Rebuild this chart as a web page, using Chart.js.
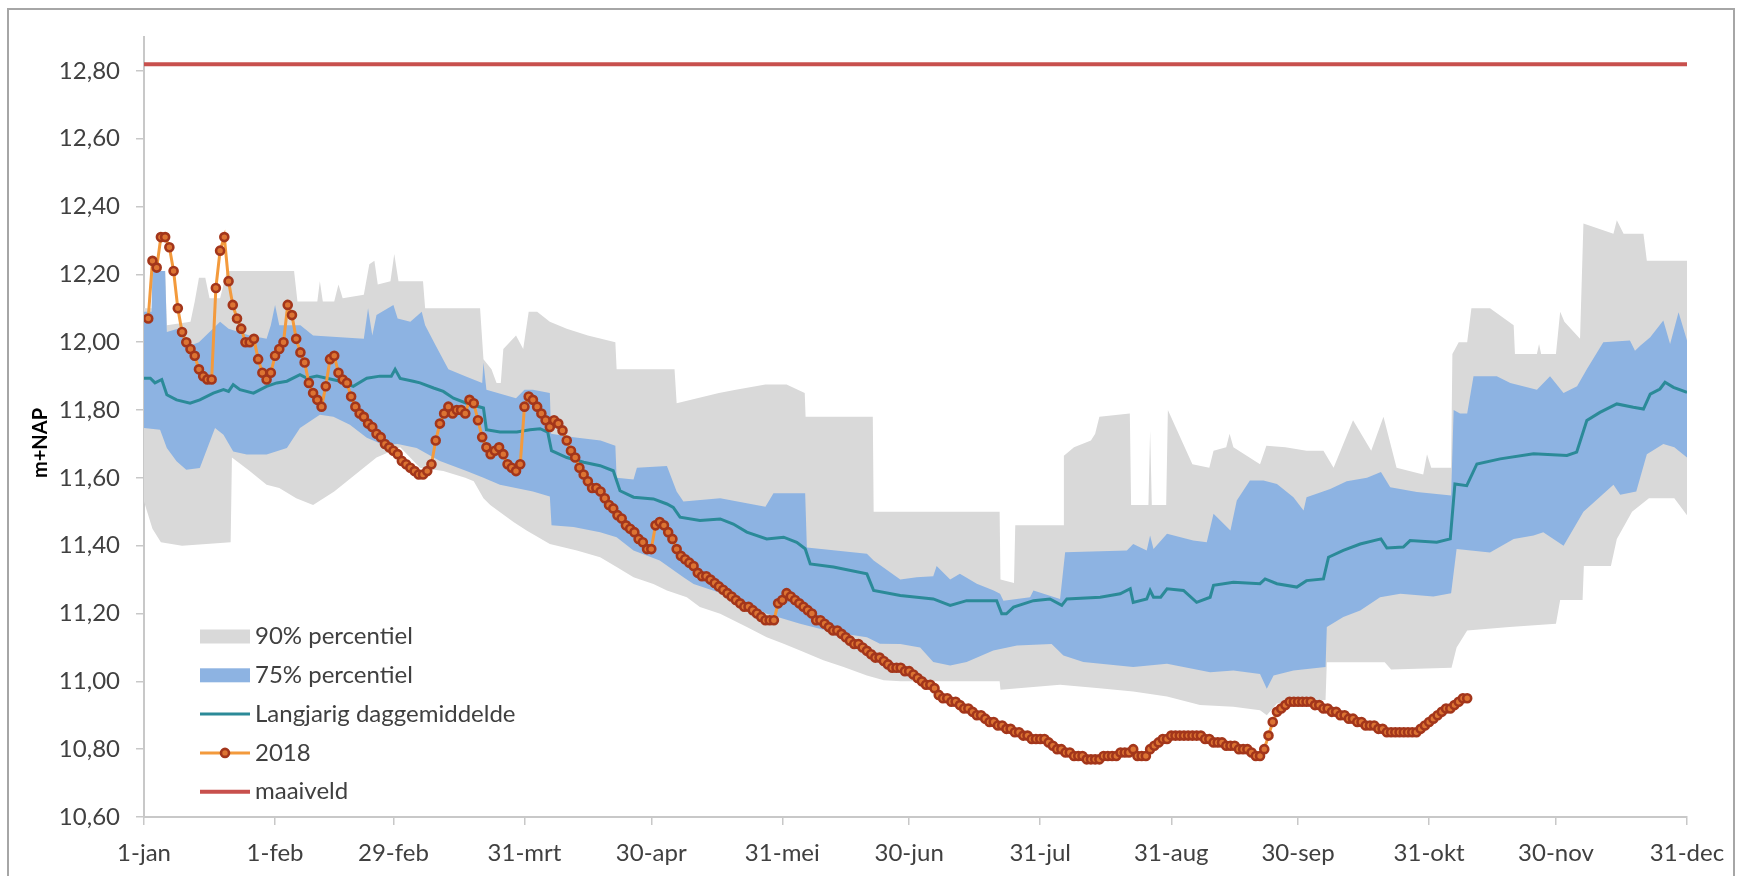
<!DOCTYPE html>
<html>
<head>
<meta charset="utf-8">
<title>Grondwaterstand 2018</title>
<script src="https://cdn.jsdelivr.net/npm/chart.js@4.4.1/dist/chart.umd.min.js"></script>
<style>
  html, body { margin: 0; padding: 0; background: #fff; }
  body { width: 1745px; height: 876px; position: relative; overflow: hidden; }
  #frame { position: absolute; left: 7px; top: 8px; width: 1728px; height: 900px;
           border: 2px solid #a6a6a6; box-sizing: border-box; }
  #chart { position: absolute; left: 0; top: 0; }
</style>
</head>
<body>
<div id="frame"></div>
<canvas id="chart" width="1745" height="876"></canvas>
<script>
/* ---------------------------------------------------------
   Data (x = day of year, 0 = 1-jan, 365 = 31-dec)
--------------------------------------------------------- */
const tickDays = [0, 31, 59, 90, 120, 151, 181, 212, 243, 273, 304, 334, 365];
const tickLabels = ["1-jan", "1-feb", "29-feb", "31-mrt", "30-apr", "31-mei", "30-jun",
                    "31-jul", "31-aug", "30-sep", "31-okt", "30-nov", "31-dec"];
const levelTicks = [10.6, 10.8, 11.0, 11.2, 11.4, 11.6, 11.8, 12.0, 12.2, 12.4, 12.6, 12.8];
const seriesNames = ["90% percentiel", "75% percentiel", "Langjarig daggemiddelde", "2018", "maaiveld"];

const maaiveld = 12.82;

// [day, m+NAP]
const p90Upper = [
  [0, 12.10], [1.8, 12.10], [2, 12.21], [5, 12.21], [5.4, 12.05], [11, 12.06], [12, 12.12],
  [13, 12.19], [14.5, 12.19], [15.5, 12.13], [18, 12.13], [19.6, 12.21], [35.5, 12.21],
  [36.3, 12.12], [41, 12.12], [41.6, 12.18], [42.3, 12.12], [45, 12.12], [46, 12.17],
  [47, 12.13], [52, 12.14], [53.3, 12.23], [54.5, 12.24], [55.3, 12.17], [58.3, 12.18],
  [59.2, 12.26], [60.2, 12.18], [66, 12.18], [66.5, 12.10], [79.5, 12.10], [80.3, 11.95],
  [82.2, 11.92], [83.4, 11.88], [84.4, 11.88], [85, 11.98], [88, 12.02], [89.7, 11.98],
  [91, 12.09], [93, 12.09], [96, 12.06], [100, 12.04], [105, 12.02], [111.5, 12.00],
  [111.8, 11.92], [125.5, 11.92], [126, 11.82], [136, 11.85], [140, 11.86], [147, 11.875],
  [152, 11.875], [156.3, 11.85], [156.5, 11.78], [172.4, 11.78], [172.6, 11.50],
  [202.4, 11.50], [202.6, 11.30], [205.8, 11.29], [206.1, 11.46], [217.4, 11.46],
  [217.6, 11.665], [220, 11.69], [224, 11.71], [225, 11.73], [226, 11.78], [233.2, 11.79],
  [233.5, 11.52], [237.6, 11.52], [238, 11.74], [238.4, 11.52], [241.8, 11.52],
  [242.2, 11.80], [248, 11.64], [252, 11.63], [253, 11.68], [256, 11.69], [256.8, 11.73],
  [257.7, 11.69], [264, 11.64], [265.5, 11.695], [270, 11.69], [275, 11.68], [279, 11.68],
  [281.4, 11.63], [286, 11.77], [290.3, 11.68], [293.2, 11.78], [296.3, 11.63],
  [302.6, 11.61], [303.5, 11.67], [304.5, 11.63], [309.2, 11.63], [309.5, 11.965],
  [311, 12.00], [313, 12.00], [314, 12.10], [318.4, 12.10], [324, 12.05], [324.3, 11.965],
  [329.5, 11.965], [330, 11.995], [330.5, 11.965], [334, 11.965], [335, 12.09], [336, 12.06],
  [339.7, 12.01], [340.5, 12.35], [347.6, 12.32], [348.4, 12.36], [350, 12.32],
  [354.7, 12.32], [355.5, 12.24], [365, 12.24]
];

const p90Lower = [
  [0, 11.53], [2, 11.45], [4, 11.41], [9, 11.40], [20.5, 11.41], [20.8, 11.66], [25, 11.62],
  [29, 11.58], [32, 11.57], [36, 11.54], [40, 11.52], [45, 11.56], [50, 11.61], [55, 11.66],
  [60.6, 11.69], [65.3, 11.63], [70.8, 11.62], [76, 11.60], [78, 11.59], [80.3, 11.54],
  [81.9, 11.52], [87.4, 11.47], [90.5, 11.445], [96, 11.405], [102.4, 11.386],
  [107.9, 11.366], [111.8, 11.337], [115.8, 11.307], [120.5, 11.287], [123.7, 11.268],
  [128.4, 11.248], [131.5, 11.219], [136.3, 11.199], [142.6, 11.16], [147.3, 11.13],
  [151.3, 11.111], [155.2, 11.091], [160.7, 11.062], [165.5, 11.042], [171, 11.017],
  [175, 11.003], [179, 11.00], [202.4, 11.00], [202.6, 10.975], [216.7, 10.99], [226, 10.98],
  [234, 10.97], [242, 10.955], [249.8, 10.93], [257.7, 10.925], [264, 10.915], [265.6, 10.90],
  [268, 10.935], [279.5, 10.945], [279.8, 11.056], [293.5, 11.056], [295, 11.035],
  [309.3, 11.04], [310.5, 11.10], [313, 11.15], [323, 11.16], [334, 11.17], [335, 11.24],
  [340.3, 11.24], [340.6, 11.34], [347, 11.34], [348.4, 11.42], [352, 11.50], [356, 11.54],
  [362, 11.54], [365, 11.49]
];

const p75Upper = [
  [0, 12.09], [1.8, 12.09], [2, 12.21], [5, 12.21], [5.4, 12.03], [8, 12.04], [11, 11.99],
  [13, 12.00], [18, 12.06], [20, 12.04], [25, 12.02], [29, 12.01], [30, 12.05], [31, 12.11],
  [32, 12.05], [37, 12.05], [40, 12.02], [52, 12.01], [53, 12.10], [54, 12.02], [55, 12.08],
  [59, 12.11], [60, 12.07], [63, 12.06], [65.7, 12.09], [66.5, 12.05], [69, 11.99],
  [72, 11.92], [76, 11.90], [80, 11.88], [80.3, 11.94], [81, 11.86], [88, 11.835],
  [90, 11.86], [92, 11.86], [96, 11.85], [96.3, 11.73], [101.6, 11.72], [108, 11.71],
  [111.5, 11.695], [111.8, 11.60], [115.8, 11.595], [116.6, 11.63], [123.7, 11.635],
  [126, 11.56], [127.6, 11.53], [136.3, 11.54], [147, 11.515], [148.9, 11.555],
  [156.4, 11.555], [156.8, 11.395], [171, 11.376], [172.6, 11.356], [178.9, 11.30],
  [182.8, 11.307], [186.7, 11.31], [187.5, 11.34], [190.7, 11.30], [193, 11.317],
  [197, 11.288], [201, 11.268], [202.5, 11.258], [203.3, 11.238], [209.6, 11.248],
  [210.4, 11.268], [216.7, 11.243], [217.9, 11.381], [232.5, 11.386], [234, 11.405],
  [237.2, 11.386], [238, 11.43], [238.8, 11.39], [242, 11.435], [248.2, 11.415],
  [251.4, 11.41], [253, 11.494], [257, 11.445], [258.5, 11.533], [261.6, 11.592],
  [264.8, 11.592], [268, 11.582], [271.9, 11.543], [274.3, 11.504], [275, 11.543],
  [280.6, 11.567], [284.5, 11.59], [289.3, 11.60], [292.6, 11.617], [294.8, 11.572],
  [301.1, 11.558], [309.2, 11.548], [309.8, 11.80], [311.3, 11.79], [313, 11.79],
  [314.5, 11.90], [320, 11.90], [323.2, 11.88], [329.5, 11.86], [332.6, 11.90],
  [335.8, 11.85], [339, 11.87], [341.3, 11.92], [345.2, 12.00], [351.5, 12.005],
  [352.7, 11.975], [354, 11.99], [356.3, 12.015], [359.4, 12.064], [361, 11.995],
  [363, 12.088], [365, 12.005]
];

const p75Lower = [
  [0, 11.747], [3.8, 11.742], [5.4, 11.688], [7.7, 11.649], [10, 11.624], [13.2, 11.629],
  [16.8, 11.747], [18.8, 11.727], [21.1, 11.678], [24.3, 11.669], [29, 11.669],
  [33.8, 11.688], [36.9, 11.747], [41.6, 11.786], [44.8, 11.78], [48.7, 11.757],
  [52.7, 11.718], [56.6, 11.698], [60, 11.70], [64.5, 11.688], [70, 11.65], [76.3, 11.62],
  [80.3, 11.60], [84.2, 11.58], [92, 11.56], [96, 11.545], [96.4, 11.46], [101.6, 11.455],
  [107.9, 11.44], [111.8, 11.425], [115.8, 11.386], [122, 11.356], [127.6, 11.307],
  [130, 11.287], [139.4, 11.248], [147.3, 11.199], [155.2, 11.17], [163.1, 11.145],
  [171, 11.13], [174.1, 11.111], [178.9, 11.11], [183.6, 11.10], [186.7, 11.057],
  [190.7, 11.047], [194.6, 11.057], [200.9, 11.091], [206.5, 11.106], [214.7, 11.11],
  [217.5, 11.076], [222.2, 11.057], [234, 11.042], [242, 11.052], [252.2, 11.027],
  [257.7, 11.032], [264, 11.022], [265.6, 10.978], [267.2, 11.017], [271.9, 11.032],
  [279.5, 11.042], [279.8, 11.16], [283.7, 11.19], [287.7, 11.209], [292.4, 11.248],
  [297.2, 11.258], [305, 11.25], [309.2, 11.26], [310.5, 11.39], [318.4, 11.38], [324, 11.42],
  [328.7, 11.43], [331, 11.44], [335.8, 11.40], [340.5, 11.50], [347.6, 11.58],
  [349.2, 11.55], [353, 11.56], [355.5, 11.67], [359.4, 11.70], [362, 11.69], [365, 11.66]
];

const dailyMean = [
  [0, 11.894], [1.5, 11.894], [2.6, 11.88], [4.2, 11.89], [5.4, 11.845], [7.7, 11.83],
  [10.9, 11.82], [13.2, 11.83], [16.4, 11.85], [18.8, 11.86], [20, 11.855], [21.1, 11.875],
  [22.7, 11.86], [25.9, 11.85], [29, 11.87], [31.4, 11.88], [33.8, 11.885], [36.9, 11.904],
  [38.5, 11.894], [40.9, 11.90], [46.4, 11.885], [49.5, 11.87], [52.7, 11.894],
  [55.8, 11.90], [58.5, 11.90], [59.4, 11.92], [60.6, 11.893], [63.7, 11.885],
  [65.3, 11.88], [68.5, 11.865], [70.8, 11.855], [73.2, 11.835], [76.3, 11.82],
  [80.3, 11.806], [81, 11.742], [84.2, 11.735], [88.2, 11.735], [91.3, 11.742],
  [93.7, 11.745], [95.5, 11.735], [96.4, 11.68], [100, 11.66], [104, 11.646],
  [107.9, 11.636], [111, 11.621], [112.6, 11.562], [115.8, 11.543], [120.5, 11.538],
  [123.7, 11.523], [125.2, 11.513], [126.8, 11.484], [131.5, 11.474], [136.3, 11.479],
  [139.4, 11.464], [142.6, 11.44], [147.3, 11.42], [151.3, 11.425], [154.4, 11.41],
  [156.4, 11.391], [157.6, 11.346], [163.1, 11.337], [171, 11.317], [172.6, 11.268],
  [178.9, 11.253], [182.8, 11.248], [186.7, 11.243], [190.7, 11.224], [194.6, 11.238],
  [201.7, 11.238], [202.9, 11.199], [204, 11.199], [205.7, 11.219], [210.4, 11.238],
  [214.3, 11.243], [217.1, 11.224], [218.3, 11.243], [226.2, 11.248], [230.9, 11.258],
  [233.3, 11.273], [234, 11.233], [237.2, 11.243], [238, 11.268], [238.8, 11.248],
  [240.5, 11.248], [242, 11.273], [245.9, 11.268], [249, 11.233], [252.2, 11.248],
  [253, 11.283], [257.7, 11.292], [264, 11.288], [265.2, 11.302], [268, 11.288],
  [272.7, 11.278], [275, 11.297], [279, 11.302], [280.2, 11.366], [283.7, 11.386],
  [287.7, 11.405], [292.6, 11.42], [294, 11.393], [297.9, 11.396], [299.5, 11.415],
  [305.8, 11.41], [309, 11.42], [310.1, 11.582], [312.9, 11.577], [315.3, 11.641],
  [320.8, 11.656], [328.7, 11.671], [336.6, 11.666], [338.9, 11.676], [341.3, 11.769],
  [344.4, 11.793], [348.4, 11.818], [352.3, 11.808], [354.7, 11.803], [356.3, 11.847],
  [358.6, 11.862], [359.8, 11.882], [361.8, 11.867], [365, 11.852]
];

// daily values 2018, first value = 2-jan
const firstDay2018 = 1;
const level2018 = [
  12.07, 12.24, 12.22, 12.31, 12.31, 12.28, 12.21, 12.10, 12.03, 12.00,
  11.98, 11.96, 11.92, 11.90, 11.89, 11.89, 12.16, 12.27, 12.31, 12.18,
  12.11, 12.07, 12.04, 12.00, 12.00, 12.01, 11.95, 11.91, 11.89, 11.91,
  11.96, 11.98, 12.00, 12.11, 12.08, 12.01, 11.97, 11.94, 11.88, 11.85,
  11.83, 11.81, 11.87, 11.95, 11.96, 11.91, 11.89, 11.88, 11.84, 11.81,
  11.79, 11.78, 11.76, 11.75, 11.73, 11.72, 11.70, 11.69, 11.68, 11.67,
  11.65, 11.64, 11.63, 11.62, 11.61, 11.61, 11.62, 11.64, 11.71, 11.76,
  11.79, 11.81, 11.79, 11.80, 11.80, 11.79, 11.83, 11.82, 11.77, 11.72,
  11.69, 11.67, 11.68, 11.69, 11.67, 11.64, 11.63, 11.62, 11.64, 11.81,
  11.84, 11.83, 11.81, 11.79, 11.77, 11.75, 11.77, 11.76, 11.74, 11.71,
  11.68, 11.66, 11.63, 11.61, 11.59, 11.57, 11.57, 11.56, 11.54, 11.52,
  11.51, 11.49, 11.48, 11.46, 11.45, 11.44, 11.42, 11.41, 11.39, 11.39,
  11.46, 11.47, 11.46, 11.44, 11.42, 11.39, 11.37, 11.36, 11.35, 11.34,
  11.32, 11.31, 11.31, 11.30, 11.29, 11.28, 11.27, 11.26, 11.25, 11.24,
  11.23, 11.22, 11.22, 11.21, 11.20, 11.19, 11.18, 11.18, 11.18, 11.23,
  11.24, 11.26, 11.25, 11.24, 11.23, 11.22, 11.21, 11.20, 11.18, 11.18,
  11.17, 11.16, 11.15, 11.15, 11.14, 11.13, 11.12, 11.11, 11.11, 11.10,
  11.09, 11.08, 11.07, 11.07, 11.06, 11.05, 11.04, 11.04, 11.04, 11.03,
  11.03, 11.02, 11.01, 11.00, 10.99, 10.99, 10.98, 10.96, 10.95, 10.95,
  10.94, 10.94, 10.93, 10.92, 10.92, 10.91, 10.90, 10.90, 10.89, 10.88,
  10.88, 10.87, 10.87, 10.86, 10.86, 10.85, 10.85, 10.84, 10.84, 10.83,
  10.83, 10.83, 10.83, 10.82, 10.81, 10.80, 10.80, 10.79, 10.79, 10.78,
  10.78, 10.78, 10.77, 10.77, 10.77, 10.77, 10.78, 10.78, 10.78, 10.78,
  10.79, 10.79, 10.79, 10.80, 10.78, 10.78, 10.78, 10.80, 10.81, 10.82,
  10.83, 10.83, 10.84, 10.84, 10.84, 10.84, 10.84, 10.84, 10.84, 10.84,
  10.83, 10.83, 10.82, 10.82, 10.82, 10.81, 10.81, 10.81, 10.80, 10.80,
  10.80, 10.79, 10.78, 10.78, 10.80, 10.84, 10.88, 10.91, 10.92, 10.93,
  10.94, 10.94, 10.94, 10.94, 10.94, 10.94, 10.93, 10.93, 10.92, 10.92,
  10.91, 10.91, 10.90, 10.90, 10.89, 10.89, 10.88, 10.88, 10.87, 10.87,
  10.87, 10.86, 10.86, 10.85, 10.85, 10.85, 10.85, 10.85, 10.85, 10.85,
  10.85, 10.86, 10.87, 10.88, 10.89, 10.90, 10.91, 10.92, 10.92, 10.93,
  10.94, 10.95, 10.95
];

/* ---------------------------------------------------------
   Styling
--------------------------------------------------------- */
const FONT = "Lato, 'Open Sans', sans-serif";
const TEXT = "#404040";
const GRAY_BAND = "#d9d9d9";
const BLUE_BAND = "#8db3e2";
const TEAL = "#2b8a98";
const ORANGE = "#f39a3c";
const MARKER_EDGE = "#a3361b";
const MARKER_FILL = "#dc7433";
const RED = "#c8504d";
const AXIS = "#c8c8c8";
const NONE = "rgba(0,0,0,0)";

const toPoints = (pairs) => pairs.map(([x, y]) => ({ x, y }));
const points2018 = level2018.map((y, i) => ({ x: firstDay2018 + i, y }));

/* ---------------------------------------------------------
   Legend inside the plot area + rotated axis title
--------------------------------------------------------- */
const insideLegend = {
  id: "insideLegend",
  afterDraw(chart) {
    const ctx = chart.ctx;
    const x0 = 200, x1 = 250, textX = 255;
    const rows = [636.5, 675.3, 714.1, 752.9, 791.7];
    ctx.save();
    rows.forEach((y, i) => {
      if (i < 2) {
        ctx.fillStyle = i === 0 ? GRAY_BAND : BLUE_BAND;
        ctx.fillRect(x0, y - 7, x1 - x0, 14);
      } else {
        ctx.strokeStyle = i === 2 ? TEAL : i === 3 ? ORANGE : RED;
        ctx.lineWidth = i === 4 ? 4 : 3;
        ctx.beginPath();
        ctx.moveTo(x0, y);
        ctx.lineTo(x1, y);
        ctx.stroke();
        if (i === 3) {
          ctx.beginPath();
          ctx.arc((x0 + x1) / 2, y, 4, 0, Math.PI * 2);
          ctx.fillStyle = MARKER_FILL;
          ctx.fill();
          ctx.lineWidth = 2.6;
          ctx.strokeStyle = MARKER_EDGE;
          ctx.stroke();
        }
      }
      ctx.fillStyle = TEXT;
      ctx.font = `24px ${FONT}`;
      ctx.textBaseline = "middle";
      ctx.textAlign = "left";
      ctx.fillText(seriesNames[i], textX, y);
    });

    // y-axis title
    ctx.translate(41, 443);
    ctx.rotate(-Math.PI / 2);
    ctx.font = `bold 20px ${FONT}`;
    ctx.fillStyle = "#000";
    ctx.textAlign = "center";
    ctx.textBaseline = "middle";
    ctx.fillText("m+NAP", 0, 0);
    ctx.restore();
  }
};

/* ---------------------------------------------------------
   Chart
--------------------------------------------------------- */
const bandLine = { borderColor: NONE, borderWidth: 1, pointRadius: 0 };
const axisGrid = { drawOnChartArea: false, tickLength: 8, color: AXIS, lineWidth: 1.5 };
const axisBorder = { color: AXIS, width: 2 };
const tickFont = { family: FONT, size: 24 };

new Chart(document.getElementById("chart"), {
  type: "line",
  data: {
    datasets: [
      { label: seriesNames[4], data: [{ x: 0, y: maaiveld }, { x: 365, y: maaiveld }],
        borderColor: RED, borderWidth: 4, pointRadius: 0 },
      { label: seriesNames[3], data: points2018, borderColor: ORANGE, borderWidth: 3,
        pointRadius: 4, pointBorderWidth: 2.6, pointBorderColor: MARKER_EDGE,
        pointBackgroundColor: MARKER_FILL },
      { label: seriesNames[2], data: toPoints(dailyMean), borderColor: TEAL, borderWidth: 3,
        pointRadius: 0 },
      { label: seriesNames[1], data: toPoints(p75Upper), fill: "+1", backgroundColor: BLUE_BAND, ...bandLine },
      { label: "75% onder", data: toPoints(p75Lower), ...bandLine },
      { label: seriesNames[0], data: toPoints(p90Upper), fill: "+1", backgroundColor: GRAY_BAND, ...bandLine },
      { label: "90% onder", data: toPoints(p90Lower), ...bandLine }
    ]
  },
  options: {
    responsive: false,
    animation: false,
    devicePixelRatio: 1,
    layout: { padding: { top: 37, right: 58, left: 0, bottom: 0 } },
    elements: { line: { tension: 0 } },
    plugins: { legend: { display: false }, tooltip: { enabled: false } },
    scales: {
      x: {
        type: "linear",
        min: 0,
        max: 365,
        afterBuildTicks: (axis) => { axis.ticks = tickDays.map((value) => ({ value })); },
        afterFit: (axis) => { axis.height = 59; },
        ticks: {
          callback: (value, index) => tickLabels[index],
          autoSkip: false,
          maxRotation: 0,
          padding: 14,
          color: TEXT,
          font: tickFont
        },
        grid: axisGrid,
        border: axisBorder
      },
      y: {
        min: 10.6,
        max: 12.9,
        afterBuildTicks: (axis) => { axis.ticks = levelTicks.map((value) => ({ value })); },
        afterFit: (axis) => { axis.width = 144; },
        ticks: {
          callback: (value) => value.toFixed(2).replace(".", ","),
          padding: 16,
          color: TEXT,
          font: tickFont
        },
        grid: axisGrid,
        border: axisBorder
      }
    }
  },
  plugins: [insideLegend]
});
</script>
</body>
</html>
